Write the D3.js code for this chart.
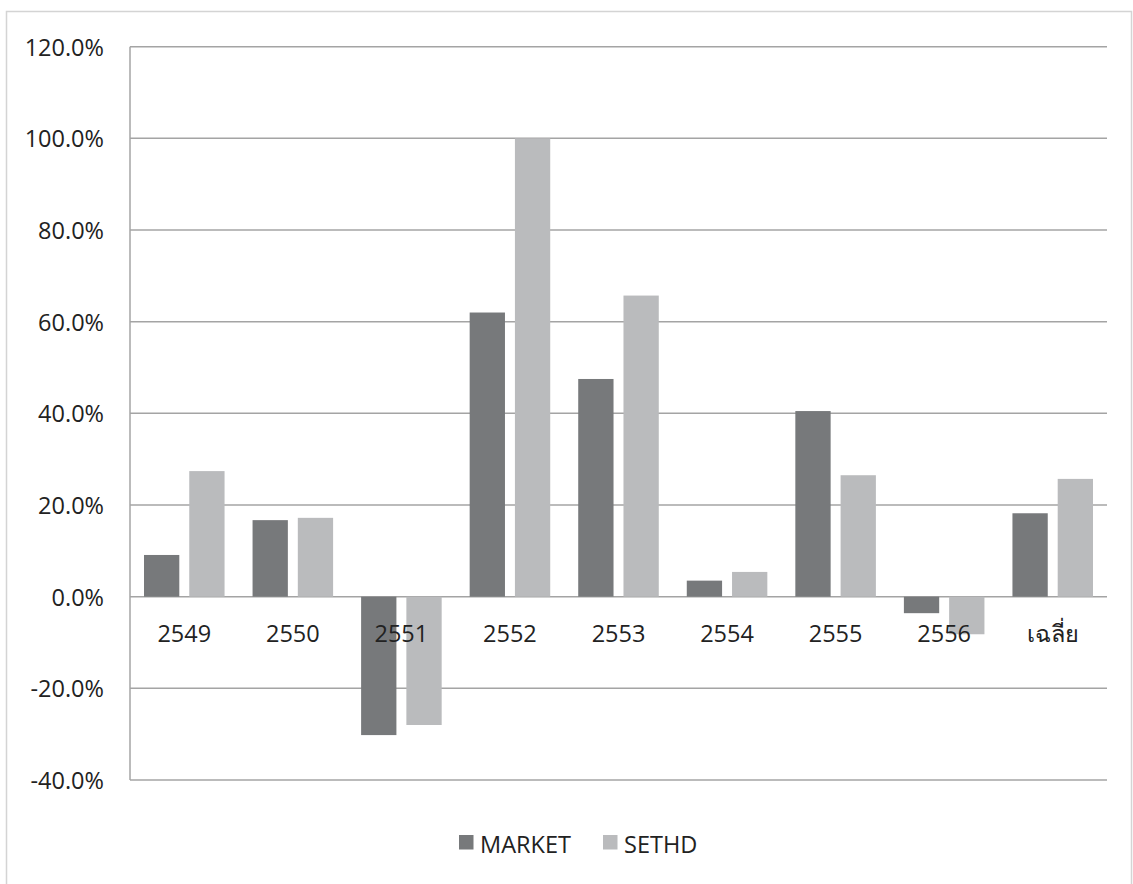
<!DOCTYPE html>
<html><head><meta charset="utf-8">
<script src="https://cdn.jsdelivr.net/npm/d3@7"></script>
<style>body{margin:0;background:#fff;} svg{display:block;}</style>
</head><body>
<script>
const categories = ["2549","2550","2551","2552","2553","2554","2555","2556","เฉลี่ย"];
const seriesNames = ["MARKET","SETHD"];
const market = [9.1, 16.7, -30.2, 62.0, 47.5, 3.5, 40.5, -3.6, 18.2];
const sethd  = [27.4, 17.2, -28.0, 100.0, 65.7, 5.4, 26.5, -8.2, 25.7];
const yTicks = [-40,-20,0,20,40,60,80,100,120];
const colors = ["#77797b","#babbbd"];

(function(){
const W = 1133, H = 884;
const svg = d3.select("body").append("svg").attr("width", W).attr("height", H);
svg.append("rect").attr("x",6.5).attr("y",11.5).attr("width",1125).attr("height",900)
  .attr("fill","none").attr("stroke","#d4d4d4").attr("stroke-width",1.5);

const pLeft = 130, pRight = 1107, pTop = 46.7, pBottom = 780;
const y = d3.scaleLinear().domain([-40,120]).range([pBottom, pTop]);
const x0 = d3.scaleBand().domain(categories).range([pLeft, pRight]).paddingInner(0).paddingOuter(0);
const inner = d3.scaleBand().domain(seriesNames).range([14, x0.bandwidth()-14]).paddingInner(0.22);

const font = "'Open Sans', sans-serif";
const fs = 23.5;
svg.append("g").selectAll("line").data(yTicks).join("line")
  .attr("x1", pLeft).attr("x2", pRight)
  .attr("y1", d=>y(d)).attr("y2", d=>y(d))
  .attr("stroke","#a4a4a4").attr("stroke-width",1.5);
svg.append("line").attr("x1",pLeft).attr("x2",pLeft).attr("y1",pTop).attr("y2",pBottom)
  .attr("stroke","#a4a4a4").attr("stroke-width",1.5);
svg.append("g").selectAll("text").data(yTicks).join("text")
  .attr("x", 104).attr("y", d=>y(d)+9)
  .attr("text-anchor","end").attr("font-family",font).attr("font-size",fs).attr("fill","#222")
  .text(d=>d.toFixed(1)+"%");

const data = categories.map((c,i)=>({c, vals:[market[i], sethd[i]]}));
const g = svg.append("g");
data.forEach(d=>{
  d.vals.forEach((v,j)=>{
    g.append("rect")
      .attr("x", x0(d.c)+inner(seriesNames[j]))
      .attr("width", inner.bandwidth())
      .attr("y", y(Math.max(0,v)))
      .attr("height", Math.abs(y(v)-y(0)))
      .attr("fill", colors[j]);
  });
});

svg.append("g").selectAll("text").data(categories).join("text")
  .attr("x", d=>x0(d)+x0.bandwidth()/2).attr("y", 642)
  .attr("text-anchor","middle").attr("font-family",font).attr("font-size",fs).attr("fill","#222")
  .text(d=>d);

const legX = [459, 603];
seriesNames.forEach((s,i)=>{
  svg.append("rect").attr("x",legX[i]).attr("y",835).attr("width",14.5).attr("height",14.5).attr("fill",colors[i]);
  svg.append("text").attr("x",legX[i]+21).attr("y",852.5).attr("font-family",font).attr("font-size",fs)
    .attr("fill","#222").text(s);
});
})();
</script>
</body></html>
